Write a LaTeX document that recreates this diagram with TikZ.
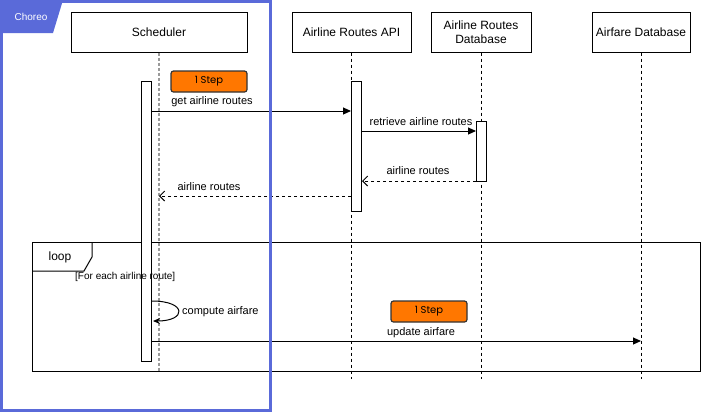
\documentclass[tikz,border=0pt]{standalone}
\usepackage{fontspec}
\setmainfont{Liberation Sans}
\newfontfamily\stepfont{Poppins}
\usetikzlibrary{arrows.meta}
\usetikzlibrary{positioning}

\definecolor{choreoblue}{HTML}{5A6AD9}
\definecolor{steporange}{HTML}{FF7700}
\definecolor{llgray}{HTML}{9A9A9A}

\tikzset{
  head/.style={draw, line width=1pt, fill=white, minimum height=40pt, inner sep=0pt,
    align=center, font=\fontsize{12}{14}\selectfont},
  actbar/.style={draw, line width=1pt, fill=white, minimum width=10pt, inner sep=0pt},
  lifeline/.style={line width=1pt, dash pattern=on 3pt off 3pt},
  sync/.style={line width=1pt, -{Triangle[length=8pt,width=7pt]}},
  reply/.style={line width=1pt, dash pattern=on 3pt off 3pt,
    -{Straight Barb[length=5pt,width=10pt]}},
  msglabel/.style={inner sep=0pt, font=\fontsize{11}{13}\selectfont},
  stepbox/.style={draw=black!80, line width=1.2pt, fill=steporange, rounded corners=2.5pt,
    minimum width=76pt, minimum height=21pt, inner sep=0pt,
    font=\stepfont\fontsize{10}{12}\selectfont}
}

\begin{document}
\begin{tikzpicture}[x=1pt, y=-1pt]
  \useasboundingbox (0,0) rectangle (702,413);

  % lifeline heads
  \node[head, minimum width=176pt] (sched) at (159,32) {Scheduler};
  \node[head, minimum width=119pt] (api) at (351.5,32) {Airline Routes API};
  \node[head, minimum width=100pt] (routesdb) at (481,32) {Airline Routes\\Database};
  \node[head, minimum width=98pt] (faredb) at (641,32) {Airfare Database};

  \coordinate (llend) at (0,379);
  \coordinate (schedend) at (0,371);
  \draw[line width=2pt, llgray, dash pattern=on 3pt off 2pt] (sched.south) -- (sched.south |- schedend);
  \draw[lifeline] (api.south) -- (api.south |- llend);
  \draw[lifeline] (routesdb.south) -- (routesdb.south |- llend);
  \draw[lifeline] (faredb.south) -- (faredb.south |- llend);

  % loop fragment
  \node[draw, line width=1pt, minimum width=668pt, minimum height=129pt, inner sep=0pt,
    anchor=north west] (loopbox) at (32,242) {};
  \draw[line width=1pt] (loopbox.north west) ++(60,0) -- ++(0,15) -- ++(-8,14) -- ++(-52,0);
  \node[font=\fontsize{12}{14}\selectfont] (looplbl) at (60,257) {loop};

  % activations
  \node[actbar, minimum height=280pt, anchor=north] (schedact) at (146.5,81) {};
  \node[actbar, minimum height=130pt, anchor=north] (apiact) at (356.5,81) {};
  \node[actbar, minimum height=60pt, anchor=north] (routesact) at (481.5,121) {};

  \node[font=\fontsize{10}{12}\selectfont, anchor=west, inner sep=0pt] (guard) at (75,277)
    {[For each airline route]};

  % messages
  \coordinate (m1) at (0,111);
  \coordinate (m2) at (0,131);
  \coordinate (m3) at (0,181);
  \coordinate (m4) at (0,196);
  \coordinate (m5a) at (0,301);
  \coordinate (m5b) at (0,321);
  \coordinate (m6) at (0,341);

  \node[stepbox] (step1) at (209,81.5) {1 Step};
  \draw[sync] (schedact.east |- m1) -- (apiact.west |- m1);
  \node[msglabel] (m1lbl) at (212,102) {get airline routes};

  \draw[sync] (apiact.east |- m2) -- (routesact.west |- m2);
  \node[msglabel] (m2lbl) at (421,122) {retrieve airline routes};

  \draw[reply] (routesact.west |- m3) -- (apiact.east |- m3);
  \node[msglabel] (m3lbl) at (418,171) {airline routes};

  \draw[reply] (apiact.west |- m4) -- (sched.south |- m4);
  \node[msglabel] (m4lbl) at (209,187) {airline routes};

  \draw[line width=1pt, -{Stealth[length=7pt,width=6pt]}] (schedact.east |- m5a)
    .. controls (187,301) and (187,321) .. ([xshift=1pt]schedact.east |- m5b);
  \node[msglabel, anchor=west] (m5lbl) at (182,312) {compute airfare};

  \node[stepbox] (step2) at (429,311.5) {1 Step};
  \draw[sync] (schedact.east |- m6) -- (faredb.south |- m6);
  \node[msglabel] (m6lbl) at (421,333) {update airfare};

  % choreo frame
  \draw[choreoblue, line width=3pt] (1.5,1.5) rectangle (270.5,410.5);
  \fill[choreoblue] (0,0) -- (63,0) -- (53,33) -- (0,33) -- cycle;
  \node[text=white, font=\fontsize{10}{12}\selectfont] (choreo) at (31,17) {Choreo};
\end{tikzpicture}
\end{document}
